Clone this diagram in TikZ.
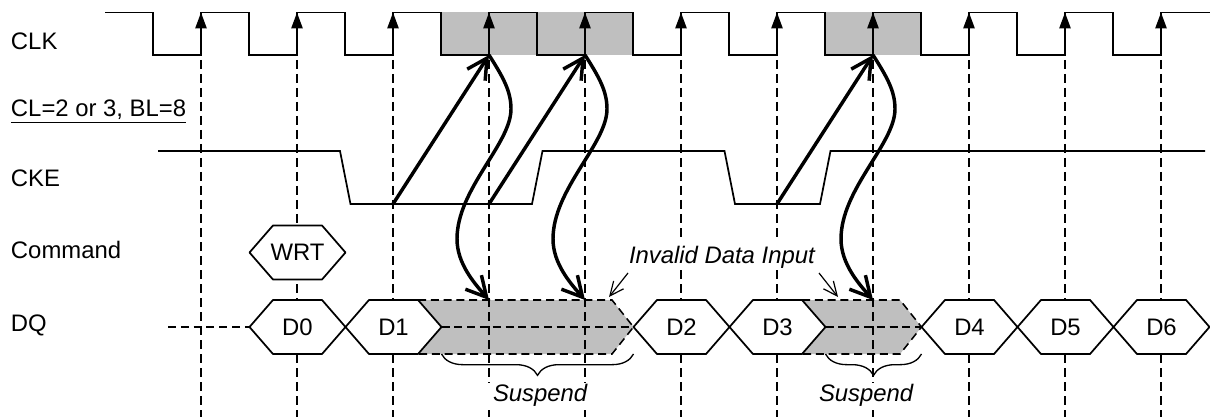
\documentclass[tikz,border=0pt]{standalone}
\usepackage{fontspec}
\setmainfont{Liberation Sans}
\usetikzlibrary{positioning, arrows.meta, shapes.symbols, decorations.pathreplacing}

\newcommand{\busname}[1]{\makebox[0pt]{#1}}

\begin{document}
\begin{tikzpicture}[
        x=0.75pt, y=-0.75pt,
        font=\fontsize{17.9}{20}\selectfont,
        every node/.style={inner sep=0pt, outer sep=0pt},
        rowlabel/.style={anchor=base west},
        slanted/.style={anchor=base west, fill=white, inner xsep=4.5pt, text depth=5pt, font=\fontsize{17.9}{20}\selectfont\itshape},
        wave/.style={line width=1.3pt, line join=miter},
        edgetip/.style={line width=1.3pt, -{Triangle[length=12pt, width=8.5pt]}},
        guide/.style={line width=1.15pt, dash pattern=on 6.5pt off 4pt},
        datadash/.style={line width=1.15pt, dash pattern=on 6pt off 3.6pt},
        bus/.style={signal, signal to=east and west, signal pointer angle=98, draw, fill=white, line width=1.3pt, line join=bevel, minimum width=72pt, minimum height=40.5pt},
        hold/.style={line width=2.6pt, -{Straight Barb[length=15pt, width=16pt]}},
        callout/.style={line width=0.9pt, -{Straight Barb[length=10.5pt, width=9.5pt]}},
        bracket/.style={line width=1pt, decorate, decoration={brace, amplitude=16pt}},
        greyfill/.style={fill=black!25}
    ]
    \useasboundingbox (0,0) rectangle (1210,417);

    % grey parts
    \fill[greyfill] (441.5,12.5) rectangle (633.5,55);
    \fill[greyfill] (825.5,12.5) rectangle (921.5,55);
    \fill[greyfill] (418,300) -- (612,300) -- (633.5,327) -- (612,354) -- (418,354) -- (441.5,327) -- cycle;
    \fill[greyfill] (802,300) -- (900,300) -- (921.5,327) -- (900,354) -- (802,354) -- (825.5,327) -- cycle;

    % clock
    \foreach \i [evaluate=\i as \x using 105+96*\i] in {1,...,11} {
        \coordinate (edge\i) at (\x,55);
        \coordinate (foot\i) at (\x,417);
        \draw[guide] (\x,60) -- (foot\i);
    }
    \draw[wave] (105,12.5) foreach \x in {201,297,...,1161} { -- (\x-48,12.5) -- (\x-48,55) -- (\x,55) -- (\x,12.5) } -- (1210,12.5);
    \foreach \i in {1,...,11}
        \draw[edgetip] (edge\i) -- ++(0,-42.5);

    % clock enable
    \draw[wave] (158,151) -- (340,151) -- (350.5,204) -- (532,204) -- (542.5,151) -- (724.5,151) -- (735,204) -- (820,204) -- (830.5,151) -- (1205,151);
    \coordinate (lowa) at (393,204);
    \coordinate (lowb) at (489,204);
    \coordinate (lowc) at (777,204);

    % labels
    \node[rowlabel] (clk) at (11,50) {CLK};
    \node[rowlabel] (latency) at (11,117) {\underline{CL=2 or 3, BL=8}};
    \node[rowlabel] (cke) at (11,186) {CKE};
    \node[rowlabel] (command) at (11,258) {Command};
    \node[rowlabel] (dq) at (11,331) {DQ};

    % bus
    \node[bus] (wrt) at (297.5,252.5) {\busname{WRT}};
    \node[bus] (d0) at (297.5,327) {\busname{D0}};
    \node[bus, right=0pt of d0] (d1) {\busname{D1}};
    \node[bus] (d2) at (681.5,327) {\busname{D2}};
    \node[bus, right=0pt of d2] (d3) {\busname{D3}};
    \node[bus] (d4) at (969.5,327) {\busname{D4}};
    \node[bus, right=0pt of d4] (d5) {\busname{D5}};
    \node[bus, right=0pt of d5] (d6) {\busname{D6}};
    \coordinate (start) at (168,327);
    \draw[datadash] (start) -- (d0.west);
    \draw[datadash] (d1.east) -- (d2.west);
    \draw[datadash] (d3.east) -- (d4.west);
    \draw[datadash] (418,300) -- (612,300) -- (d2.west) -- (612,354) -- (418,354);
    \draw[datadash] (802,300) -- (900,300) -- (d4.west) -- (900,354) -- (802,354);

    % hold arrows
    \coordinate (hita) at (489,300);
    \coordinate (hitb) at (585,300);
    \coordinate (hitc) at (873,300);
    \draw[hold] (lowa) -- (edge4);
    \draw[hold] (lowb) -- (edge5);
    \draw[hold] (lowc) -- (edge8);
    \foreach \rise/\hit in {edge4/hita, edge5/hitb, edge8/hitc}
        \draw[hold, shift={(\rise)}] (\rise) .. controls (14,22) and (22,36) .. (22,54)
            .. controls (22,89) and (-32,134) .. (-32,184)
            .. controls (-32,209) and (-14,229) .. (\hit);

    % invalid data
    \node[slanted, text height=19.5pt] (invalid) at (623,263) {Invalid Data Input};
    \coordinate (noteend) at (609,297);
    \coordinate (notestart) at (838,297);
    \draw[callout] (628,273) -- (noteend);
    \draw[callout] (819,273) -- (notestart);

    % suspend
    \coordinate (bracea) at (441.5,354);
    \coordinate (braceb) at (633.5,354);
    \coordinate (bracec) at (825.5,354);
    \coordinate (braced) at (921.5,354);
    \draw[bracket] (braceb) -- (bracea);
    \draw[bracket] (braced) -- (bracec);
    \node[slanted, text height=14pt] (pausea) at (487,401.5) {Suspend};
    \node[slanted, text height=14pt] (pauseb) at (813,401.5) {Suspend};
    \end{tikzpicture}
\end{document}
